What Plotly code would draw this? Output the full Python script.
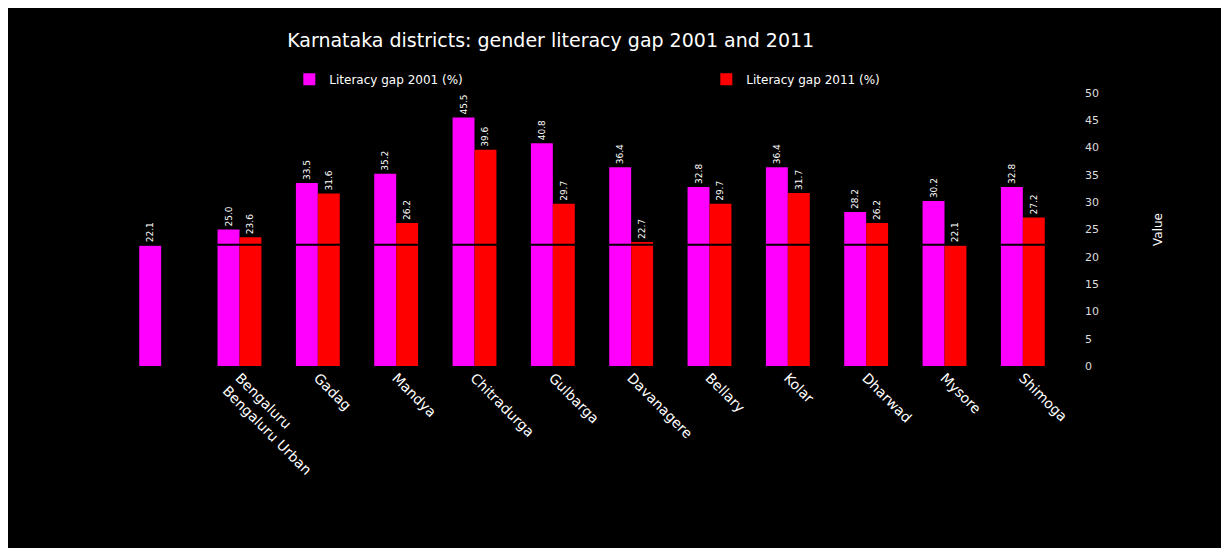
import plotly.graph_objects as go

# ---- data (left to right as drawn) ----
categories = [" ", "Bengaluru<br>Bengaluru Urban", "Gadag", "Mandya", "Chitradurga",
              "Gulbarga", "Davanagere", "Bellary", "Kolar", "Dharwad", "Mysore", "Shimoga"]
series_a_name = "Literacy gap 2001 (%)"
series_b_name = "Literacy gap 2011 (%)"
series_a = [22.1, 25.0, 33.5, 35.2, 45.5, 40.8, 36.4, 32.8, 36.4, 28.2, 30.2, 32.8]
series_b = [None, 23.6, 31.6, 26.2, 39.6, 29.7, 22.7, 29.7, 31.7, 26.2, 22.1, 27.2]
reference_value = 22.2
y_ticks = [0, 5, 10, 15, 20, 25, 30, 35, 40, 45, 50]
title_text = "Karnataka districts: gender literacy gap 2001 and 2011"
y_title = "Value"

fig = go.Figure()
fig.add_trace(go.Bar(
    x=categories, y=series_a, name=series_a_name,
    marker=dict(color="#FF00FF", line=dict(width=0)),
    text=[f"{v:.1f}" for v in series_a], textposition="outside", textangle=-90,
    textfont=dict(color="white", size=9), cliponaxis=False,
))
fig.add_trace(go.Bar(
    x=categories, y=series_b, name=series_b_name,
    marker=dict(color="#FF0000", line=dict(width=0)),
    text=[("" if v is None else f"{v:.1f}") for v in series_b], textposition="outside", textangle=-90,
    textfont=dict(color="white", size=9), cliponaxis=False,
))

fig.add_shape(type="line", xref="paper", x0=0, x1=1, yref="y",
              y0=reference_value, y1=reference_value,
              line=dict(color="black", width=2), layer="above")

fig.update_layout(
    width=1214, height=540,
    paper_bgcolor="black", plot_bgcolor="black",
    font=dict(family="DejaVu Sans", color="white", size=12),
    title=dict(text=title_text, x=0.447, xanchor="center", y=0.94, yanchor="middle",
               font=dict(size=19, color="white")),
    margin=dict(l=114, r=160, t=85, b=182),
    barmode="group", bargap=0.44, bargroupgap=0,
    showlegend=True,
    legend=dict(orientation="h", x=0.178, xanchor="left", y=1.05, yanchor="middle",
                bgcolor="rgba(0,0,0,0)", font=dict(color="white", size=12),
                entrywidth=372, entrywidthmode="pixels"),
    xaxis=dict(tickangle=45, showgrid=False, zeroline=False, showline=False,
               tickfont=dict(color="white", size=14)),
    yaxis=dict(side="right", range=[0, 50], tickvals=y_ticks, showgrid=False,
               zeroline=False, showline=False, ticklabelstandoff=22,
               tickfont=dict(color="#dddddd", size=11),
               title=dict(text=y_title, standoff=55, font=dict(color="white", size=12))),
)

fig.write_html("out.html")
